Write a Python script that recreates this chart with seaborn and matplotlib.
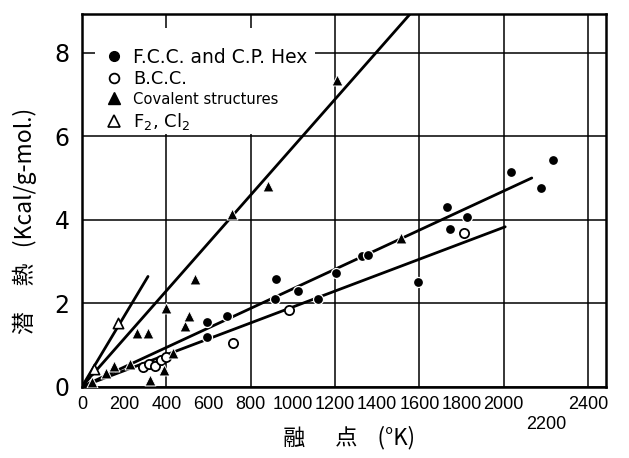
import numpy as np
import pandas as pd
import matplotlib
matplotlib.use("Agg")
import matplotlib.pyplot as plt
import seaborn as sns
from matplotlib.lines import Line2D
from matplotlib.patches import Rectangle

# ---- data (melting point K, latent heat kcal/g-mol) ----
fcc_mp = [592, 592, 690, 916, 920, 1026, 1118, 1203, 1327, 1358, 1595, 1730, 1746, 1825, 2035, 2177, 2236]
fcc_lh = [1.56, 1.19, 1.70, 2.10, 2.57, 2.28, 2.10, 2.72, 3.12, 3.16, 2.50, 4.31, 3.78, 4.07, 5.14, 4.77, 5.43]

bcc_mp = [291, 318, 346, 375, 397, 718, 982, 1812]
bcc_lh = [0.48, 0.54, 0.50, 0.64, 0.72, 1.05, 1.84, 3.69]

cov_mp = [46, 114, 153, 228, 259, 312, 323, 389, 433, 397, 489, 509, 536, 710, 884, 1208, 1513]
cov_lh = [0.12, 0.33, 0.50, 0.54, 1.28, 1.29, 0.16, 0.40, 0.80, 1.88, 1.46, 1.70, 2.57, 4.14, 4.81, 7.35, 3.56]

hal_mp = [57, 173]
hal_lh = [0.41, 1.53]

# straight lines drawn from the origin to these end points
fit_names = ["F2Cl2", "covalent", "fcc", "bcc"]
fit_end_mp = [313, 1556, 2133, 2007]
fit_end_lh = [2.64, 8.93, 5.00, 3.83]

legend_labels = ["F.C.C. and C.P. Hex", "B.C.C.", "Covalent structures", "F$_2$, Cl$_2$"]
x_major = [0, 400, 800, 1200, 1600, 2000, 2400]
x_minor = [200, 600, 1000, 1400, 1800, 2200]
x_minor_labels = ["200", "600", "1000", "1400", "1800", "\n2200"]
y_ticks = [0, 2, 4, 6, 8]

sns.set_style("white")
plt.rcParams['font.family'] = ['DejaVu Sans']
plt.rcParams['text.color'] = 'black'
plt.rcParams['axes.labelcolor'] = 'black'
plt.rcParams['xtick.color'] = 'black'
plt.rcParams['ytick.color'] = 'black'

fig = plt.figure(figsize=(6.29, 4.58), dpi=100)
ax = fig.add_axes([82/629, (458-386.6)/458, (606-82)/629, (386.6-14)/458])

# lines
rows = []
for n, xe, ye in zip(fit_names, fit_end_mp, fit_end_lh):
    rows.append(dict(line=n, mp=0.0, lh=0.0))
    rows.append(dict(line=n, mp=xe, lh=ye))
lines_df = pd.DataFrame(rows)
sns.lineplot(data=lines_df, x="mp", y="lh", units="line", estimator=None,
             color="black", linewidth=2.0, ax=ax, zorder=2, legend=False)

# points
sns.scatterplot(x=fcc_mp, y=fcc_lh, marker="o", s=52, color="black",
                edgecolor="white", linewidth=0.9, ax=ax, zorder=4)
sns.scatterplot(x=bcc_mp, y=bcc_lh, marker="o", s=44, color="white",
                edgecolor="black", linewidth=1.3, ax=ax, zorder=4)
sns.scatterplot(x=cov_mp, y=cov_lh, marker="^", s=62, color="black",
                edgecolor="white", linewidth=0.7, ax=ax, zorder=4)
sns.scatterplot(x=hal_mp, y=hal_lh, marker="^", s=55, color="white",
                edgecolor="black", linewidth=1.2, ax=ax, zorder=4)

ax.set_xlim(0, 2485)
ax.set_ylim(0, 8.93)

ax.set_xticks(x_major, [str(v) for v in x_major],
              fontdict=dict(family="Liberation Sans", size=13))
ax.set_xticks(x_minor, x_minor_labels, minor=True,
              fontdict=dict(family="Liberation Sans", size=13))
ax.set_yticks(y_ticks, [str(v) for v in y_ticks])
ax.tick_params(axis="x", which="major", length=0, pad=7)
ax.tick_params(axis="x", which="minor", length=9, width=1.2, direction="in",
               pad=7, color="black")
ax.tick_params(axis="y", which="major", length=0, pad=9, labelsize=17)
ax.grid(True, which="major", color="black", linewidth=1.1)
ax.set_axisbelow(True)
for sp in ax.spines.values():
    sp.set_color("black")
    sp.set_linewidth(1.8)

cjk = ['Noto Sans CJK JP', 'DejaVu Sans']
ax.set_xlabel("融      点    (°K)", family=cjk, fontsize=16)
ax.set_ylabel("潜     熱   (Kcal/g-mol.)", family=cjk, fontsize=16.5)
ax.yaxis.set_label_coords(-0.085, 0.445)
ax.xaxis.set_label_coords(0.51, -0.105)

# white area behind the legend that hides the grid there
ax.add_patch(Rectangle((0.025, 0.678), 0.42, 0.962 - 0.678, transform=ax.transAxes,
                       facecolor="white", edgecolor="none", zorder=1.5))

handles = [
    Line2D([], [], linestyle="none", marker="o", markersize=7, color="black"),
    Line2D([], [], linestyle="none", marker="o", markersize=7, markerfacecolor="white",
           markeredgecolor="black", markeredgewidth=1.3),
    Line2D([], [], linestyle="none", marker="^", markersize=8, color="black"),
    Line2D([], [], linestyle="none", marker="^", markersize=8, markerfacecolor="white",
           markeredgecolor="black", markeredgewidth=1.2),
]
leg = ax.legend(handles, legend_labels, loc="upper left",
                bbox_to_anchor=(0.047, 0.91), frameon=False,
                fontsize=13, handlelength=0.8, handletextpad=0.65,
                labelspacing=0.2, borderpad=0, borderaxespad=0)
sizes = [13.5, 12.8, 10.6, 13]
for t, s in zip(leg.get_texts(), sizes):
    t.set_fontsize(s)
leg.set_zorder(5)

fig.savefig("out.png", dpi=100, facecolor="white")
